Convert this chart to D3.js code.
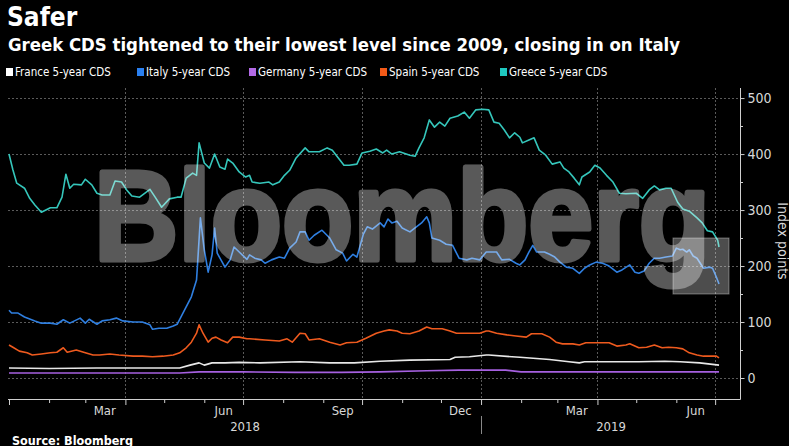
<!DOCTYPE html>
<html><head><meta charset="utf-8">
<script src="https://cdn.jsdelivr.net/npm/d3@7"></script>
<style>html,body{margin:0;padding:0;background:#000;} svg{display:block}</style>
</head><body>
<script>
// ---------- DATA ----------
const seriesNames = ["France 5-year CDS","Italy 5-year CDS","Germany 5-year CDS","Spain 5-year CDS","Greece 5-year CDS"];
const seriesColors = ["#e8e8e8","#2f7fe0","#a660e0","#ee5a1e","#35c6bb"];
const legendColors = ["#ffffff","#2a80f0","#b26ae6","#f25a18","#1fc8c0"];

const france = [["2018-01-01",18],["2018-02-01",17],["2018-03-10",18],["2018-04-20",18],["2018-05-13",18],["2018-05-21",23],["2018-05-28",27],["2018-06-01",23],["2018-06-07",27],["2018-06-17",27],["2018-06-28",28],["2018-07-14",27],["2018-08-14",29],["2018-09-06",27],["2018-09-25",27],["2018-10-15",30],["2018-11-07",32],["2018-12-08",33],["2018-12-12",37],["2018-12-23",38],["2019-01-05",41],["2019-01-07",41],["2019-01-31",37],["2019-02-23",33],["2019-03-10",29],["2019-03-18",27],["2019-03-22",29],["2019-04-03",29],["2019-05-03",29],["2019-05-23",30],["2019-06-04",29],["2019-06-19",27],["2019-07-04",23]];

const italy = [["2018-01-01",121],["2018-01-03",116],["2018-01-08",116],["2018-01-13",109],["2018-01-21",102],["2018-01-26",98],["2018-02-02",98],["2018-02-07",96],["2018-02-12",104],["2018-02-17",98],["2018-02-25",107],["2018-03-01",98],["2018-03-04",105],["2018-03-10",96],["2018-03-14",102],["2018-03-20",104],["2018-03-25",107],["2018-03-30",102],["2018-04-07",100],["2018-04-14",100],["2018-04-20",95],["2018-04-22",87],["2018-04-27",89],["2018-05-03",89],["2018-05-08",93],["2018-05-11",96],["2018-05-14",109],["2018-05-18",127],["2018-05-22",145],["2018-05-26",175],["2018-05-27",211],["2018-05-29",286],["2018-06-01",229],["2018-06-04",189],["2018-06-07",220],["2018-06-09",268],["2018-06-11",223],["2018-06-17",198],["2018-06-21",211],["2018-06-24",234],["2018-06-28",225],["2018-07-04",212],["2018-07-06",220],["2018-07-10",214],["2018-07-15",211],["2018-07-18",205],["2018-07-23",211],["2018-07-29",216],["2018-08-02",214],["2018-08-06",232],["2018-08-11",243],["2018-08-14",261],["2018-08-18",261],["2018-08-21",246],["2018-08-25",255],["2018-08-31",264],["2018-09-06",250],["2018-09-11",229],["2018-09-16",223],["2018-09-19",209],["2018-09-24",221],["2018-09-27",216],["2018-10-02",257],["2018-10-05",270],["2018-10-09",266],["2018-10-15",277],["2018-10-18",270],["2018-10-21",284],["2018-10-24",277],["2018-10-28",280],["2018-11-01",268],["2018-11-07",261],["2018-11-11",268],["2018-11-16",277],["2018-11-20",288],["2018-11-22",277],["2018-11-24",250],["2018-11-30",246],["2018-12-05",239],["2018-12-10",237],["2018-12-15",214],["2018-12-21",211],["2018-12-25",214],["2018-12-31",211],["2019-01-05",225],["2019-01-07",225],["2019-01-13",225],["2019-01-17",211],["2019-01-23",212],["2019-01-28",205],["2019-01-31",202],["2019-02-04",211],["2019-02-07",225],["2019-02-10",237],["2019-02-13",225],["2019-02-19",225],["2019-02-23",221],["2019-02-27",216],["2019-03-03",207],["2019-03-08",198],["2019-03-13",196],["2019-03-18",187],["2019-03-22",196],["2019-03-26",202],["2019-03-31",207],["2019-04-05",205],["2019-04-10",200],["2019-04-16",189],["2019-04-20",193],["2019-04-26",202],["2019-04-30",189],["2019-05-03",187],["2019-05-07",191],["2019-05-11",205],["2019-05-15",214],["2019-05-19",214],["2019-05-24",216],["2019-05-29",218],["2019-06-01",232],["2019-06-04",229],["2019-06-06",230],["2019-06-09",225],["2019-06-11",229],["2019-06-14",218],["2019-06-17",214],["2019-06-22",196],["2019-06-27",198],["2019-06-29",196],["2019-07-02",180],["2019-07-04",168]];

const germany = [["2018-01-01",9],["2018-02-15",9],["2018-04-01",9],["2018-05-13",9],["2018-05-28",11],["2018-07-01",11],["2018-08-10",10],["2018-09-15",10],["2018-10-15",11],["2018-11-20",13],["2018-12-15",14],["2019-01-10",14],["2019-01-20",14],["2019-02-01",11],["2019-03-01",11],["2019-04-01",11],["2019-05-15",11],["2019-07-04",11]];

const spain = [["2018-01-01",59],["2018-01-04",55],["2018-01-09",48],["2018-01-15",45],["2018-01-19",41],["2018-01-26",43],["2018-02-02",45],["2018-02-07",46],["2018-02-12",54],["2018-02-15",46],["2018-02-22",50],["2018-03-01",45],["2018-03-07",41],["2018-03-12",41],["2018-03-20",43],["2018-03-27",41],["2018-04-07",39],["2018-04-14",39],["2018-04-22",38],["2018-04-30",39],["2018-05-08",41],["2018-05-13",45],["2018-05-18",54],["2018-05-22",64],["2018-05-26",80],["2018-05-28",95],["2018-05-31",80],["2018-06-04",64],["2018-06-07",71],["2018-06-10",73],["2018-06-14",68],["2018-06-19",63],["2018-06-23",73],["2018-06-28",73],["2018-07-04",70],["2018-07-06",70],["2018-07-18",68],["2018-07-29",66],["2018-08-04",70],["2018-08-08",64],["2018-08-14",80],["2018-08-18",79],["2018-08-21",68],["2018-08-29",70],["2018-09-06",64],["2018-09-14",59],["2018-09-19",63],["2018-09-27",64],["2018-10-04",71],["2018-10-12",80],["2018-10-18",84],["2018-10-22",86],["2018-10-28",84],["2018-11-01",80],["2018-11-07",79],["2018-11-14",84],["2018-11-20",91],["2018-11-24",88],["2018-12-02",88],["2018-12-08",84],["2018-12-13",80],["2018-12-23",80],["2018-12-31",80],["2019-01-05",84],["2019-01-07",84],["2019-01-13",80],["2019-01-21",77],["2019-01-28",75],["2019-02-05",73],["2019-02-09",79],["2019-02-17",79],["2019-02-23",73],["2019-02-28",64],["2019-03-05",61],["2019-03-13",61],["2019-03-18",59],["2019-03-23",63],["2019-04-03",63],["2019-04-10",63],["2019-04-16",57],["2019-04-23",59],["2019-04-26",61],["2019-05-03",54],["2019-05-09",55],["2019-05-15",59],["2019-05-21",54],["2019-05-26",55],["2019-06-01",54],["2019-06-06",52],["2019-06-11",45],["2019-06-17",41],["2019-06-22",39],["2019-06-27",39],["2019-07-02",39],["2019-07-04",36]];

const greece = [["2018-01-01",400],["2018-01-04",372],["2018-01-07",348],["2018-01-13",339],["2018-01-17",321],["2018-01-21",309],["2018-01-26",296],["2018-02-02",304],["2018-02-07",304],["2018-02-11",323],["2018-02-14",364],["2018-02-17",339],["2018-02-20",346],["2018-02-26",345],["2018-03-01",355],["2018-03-06",345],["2018-03-10",330],["2018-03-14",327],["2018-03-20",327],["2018-03-24",352],["2018-03-29",350],["2018-04-02",336],["2018-04-06",325],["2018-04-12",323],["2018-04-20",337],["2018-04-24",323],["2018-04-29",305],["2018-05-05",320],["2018-05-11",323],["2018-05-14",323],["2018-05-18",357],["2018-05-23",366],["2018-05-26",362],["2018-05-28",420],["2018-06-01",384],["2018-06-05",375],["2018-06-09",400],["2018-06-13",377],["2018-06-17",373],["2018-06-19",391],["2018-06-23",384],["2018-06-28",368],["2018-07-03",359],["2018-07-06",362],["2018-07-08",350],["2018-07-14",348],["2018-07-21",350],["2018-07-24",345],["2018-07-29",350],["2018-08-02",362],["2018-08-06",371],["2018-08-11",393],["2018-08-18",411],["2018-08-21",404],["2018-08-29",404],["2018-09-04",411],["2018-09-08",407],["2018-09-14",389],["2018-09-17",380],["2018-09-21",380],["2018-09-27",382],["2018-10-01",402],["2018-10-07",405],["2018-10-12",409],["2018-10-17",402],["2018-10-20",407],["2018-10-24",400],["2018-10-30",404],["2018-11-07",398],["2018-11-11",396],["2018-11-14",411],["2018-11-18",429],["2018-11-22",461],["2018-11-26",448],["2018-11-30",457],["2018-12-04",450],["2018-12-08",464],["2018-12-14",468],["2018-12-19",475],["2018-12-23",464],["2018-12-28",479],["2019-01-02",480],["2019-01-07",479],["2019-01-11",457],["2019-01-15",455],["2019-01-19",443],["2019-01-23",429],["2019-01-27",438],["2019-01-31",430],["2019-02-02",420],["2019-02-07",425],["2019-02-11",429],["2019-02-15",407],["2019-02-20",398],["2019-02-25",382],["2019-03-03",386],["2019-03-06",375],["2019-03-10",368],["2019-03-14",357],["2019-03-18",345],["2019-03-20",359],["2019-03-26",368],["2019-03-30",380],["2019-04-03",375],["2019-04-08",362],["2019-04-13",350],["2019-04-18",330],["2019-04-23",329],["2019-05-01",330],["2019-05-06",321],["2019-05-11",336],["2019-05-15",343],["2019-05-19",336],["2019-05-24",339],["2019-05-28",339],["2019-06-02",314],["2019-06-06",302],["2019-06-11",298],["2019-06-17",286],["2019-06-21",277],["2019-06-25",263],["2019-06-29",261],["2019-07-03",246],["2019-07-04",234]];

const yTicks = [0,100,200,300,400,500];
const yMinorTicks = [50,150,250,350,450];
const monthLabelNames = ["Mar","Jun","Sep","Dec","Mar","Jun"];
const monthLabelDates = ["2018-03-16","2018-06-16","2018-09-16","2018-12-16","2019-03-16","2019-06-16"];
const yearLabels = ["2018","2019"];
const yearSpans = [["2018-01-01","2019-01-01"],["2019-01-01","2019-07-21"]];

// ---------- CHART ----------
const W = 789, H = 446;
const parse = d3.timeParse("%Y-%m-%d");
const allSeries = [france, italy, germany, spain, greece].map(s => s.map(d => ({date: parse(d[0]), value: d[1]})));

const svg = d3.select("body").append("svg").attr("width", W).attr("height", H)
  .style("background", "#000");
svg.append("rect").attr("width", W).attr("height", H).attr("fill", "#000");

const x = d3.scaleTime().domain([parse("2018-01-01"), parse("2019-07-21")]).range([9, 741]);
const y = d3.scaleLinear().domain([-37.5, 518]).range([399, 88]);
const plotLeft = 8, plotRight = 740, plotTop = 88, plotBottom = 399;

const condensed = "'DejaVu Sans Condensed','DejaVu Sans',sans-serif";

// titles
svg.append("text").attr("x", 7).attr("y", 26).text("Safer")
  .attr("fill", "#fff").attr("font-family", condensed).attr("font-weight", "bold").attr("font-size", 26);
svg.append("text").attr("x", 8).attr("y", 51).text("Greek CDS tightened to their lowest level since 2009, closing in on Italy")
  .attr("fill", "#fff").attr("font-family", condensed).attr("font-weight", "bold").attr("font-size", 18.4);

// legend
const legendX = [6, 137, 249, 380, 500];
const lg = svg.append("g");
seriesNames.forEach((n, i) => {
  lg.append("rect").attr("x", legendX[i]).attr("y", 68).attr("width", 7).attr("height", 8).attr("fill", legendColors[i]);
  lg.append("text").attr("x", legendX[i] + 9).attr("y", 76).text(n)
    .attr("fill", "#fff").attr("font-family", condensed).attr("font-size", 11.5);
});

// grid
const grid = svg.append("g").attr("stroke", "#5a5a5a").attr("stroke-dasharray", "2,2").attr("stroke-width", 1);
grid.selectAll("line.h").data(yTicks).join("line")
  .attr("x1", plotLeft).attr("x2", plotRight).attr("y1", d => Math.round(y(d)) + 0.5).attr("y2", d => Math.round(y(d)) + 0.5);
const quarterDates = d3.timeMonth.every(3).range(parse("2018-02-01"), parse("2019-07-21"));
grid.selectAll("line.v").data(quarterDates).join("line")
  .attr("x1", d => Math.round(x(d)) + 0.5).attr("x2", d => Math.round(x(d)) + 0.5).attr("y1", plotTop).attr("y2", plotBottom);

// lines
const line = d3.line().x(d => x(d.date)).y(d => y(d.value));
const drawOrder = [2, 0, 3, 1, 4];
svg.append("g").selectAll("path").data(drawOrder).join("path")
  .attr("d", i => line(allSeries[i])).attr("fill", "none")
  .attr("stroke", i => seriesColors[i]).attr("stroke-width", 1.6).attr("stroke-linejoin", "round");

// watermark
const wm = svg.append("g").attr("opacity", 0.35);
wm.append("text").attr("x", 94).attr("y", 260).text("Bloomberg")
  .attr("font-family", "'Liberation Sans',Arial,sans-serif").attr("font-weight", 700).attr("font-size", 128)
  .attr("textLength", 616).attr("lengthAdjust", "spacingAndGlyphs")
  .attr("fill", "#fff").attr("stroke", "#fff").attr("stroke-width", 5).attr("stroke-linejoin", "round");
svg.append("rect").attr("x", 673).attr("y", 238).attr("width", 56).attr("height", 56)
  .attr("fill", "#fff").attr("fill-opacity", 0.3).attr("stroke", "#fff").attr("stroke-opacity", 0.35);

// axes
const axColor = "#cfcfcf";
const xAxis = d3.axisBottom(x).ticks(d3.timeMonth.every(1)).tickSize(4).tickFormat("");
const gx = svg.append("g").attr("transform", `translate(0,${plotBottom})`).call(xAxis);
gx.select(".domain").remove();
gx.selectAll(".tick line").attr("stroke", axColor)
  .attr("y2", d => (d.getMonth() % 3 === 0) ? 6 : 4);
svg.append("line").attr("x1", plotLeft).attr("x2", plotRight + 0.5).attr("y1", plotBottom + 0.5).attr("y2", plotBottom + 0.5).attr("stroke", axColor);
svg.append("g").selectAll("text").data(monthLabelNames).join("text")
  .attr("x", (d, i) => x(parse(monthLabelDates[i]))).attr("y", 415).attr("text-anchor", "middle").text(d => d)
  .attr("fill", "#d8d8d8").attr("font-family", condensed).attr("font-size", 13);
svg.append("g").selectAll("text").data(yearLabels).join("text")
  .attr("x", (d, i) => (x(parse(yearSpans[i][0])) + x(parse(yearSpans[i][1]))) / 2).attr("y", 431)
  .attr("text-anchor", "middle").text(d => d)
  .attr("fill", "#d8d8d8").attr("font-family", condensed).attr("font-size", 13);
svg.append("line").attr("x1", Math.round(x(parse("2019-01-01"))) + 0.5).attr("x2", Math.round(x(parse("2019-01-01"))) + 0.5)
  .attr("y1", 416).attr("y2", 434).attr("stroke", "#888");

// right axis
const yAxis = d3.axisRight(y).tickValues(yTicks).tickSize(4).tickPadding(3);
const gy = svg.append("g").attr("transform", `translate(${plotRight + 0.5},0)`).call(yAxis);
gy.select(".domain").attr("stroke", axColor).attr("d", `M0,${plotTop}V${plotBottom + 0.5}`);
gy.selectAll(".tick line").attr("stroke", axColor);
gy.selectAll(".tick text").attr("fill", "#d8d8d8").attr("font-family", condensed).attr("font-size", 14);
svg.append("g").selectAll("line").data(yMinorTicks).join("line")
  .attr("x1", plotRight).attr("x2", plotRight + 3).attr("y1", d => Math.round(y(d)) + 0.5).attr("y2", d => Math.round(y(d)) + 0.5)
  .attr("stroke", axColor);
svg.append("text").attr("transform", `translate(778,241) rotate(90)`)
  .attr("text-anchor", "middle").text("Index points")
  .attr("fill", "#d8d8d8").attr("font-family", condensed).attr("font-size", 14);

// source
svg.append("text").attr("x", 12).attr("y", 445).text("Source: Bloomberg")
  .attr("fill", "#fff").attr("font-family", condensed).attr("font-weight", "bold").attr("font-size", 12.5);
</script>
</body></html>
